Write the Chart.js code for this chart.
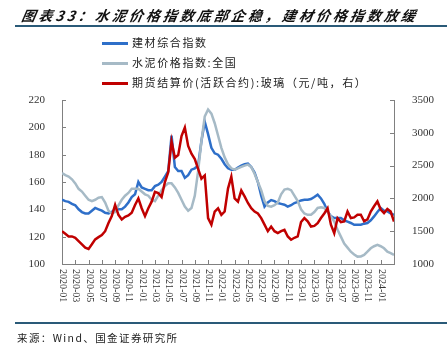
<!DOCTYPE html>
<html>
<head>
<meta charset="utf-8">
<script src="https://cdn.jsdelivr.net/npm/chart.js@4"></script>
<style>
html,body{margin:0;padding:0;background:#fff;}
#wrap{position:relative;width:447px;height:355px;overflow:hidden;background:#fff;}
#c{position:absolute;left:0;top:0;}
.title{position:absolute;left:20px;top:5px;font-family:"Noto Sans CJK SC";font-weight:bold;font-style:italic;font-size:14px;letter-spacing:3px;color:#111;white-space:nowrap;transform:skewX(-10deg);transform-origin:left bottom;}
.hr{position:absolute;left:15px;width:432px;height:2px;background:#2a5a78;}
.leg{position:absolute;left:102px;font-family:"Noto Sans CJK SC";font-size:11px;letter-spacing:1.6px;color:#222;white-space:nowrap;line-height:14px;}
.leg span.l{display:inline-block;width:26px;height:3px;vertical-align:middle;margin-right:4px;position:relative;top:-1px;}
.src{position:absolute;left:17px;top:330px;font-family:"Noto Sans CJK SC";font-size:10.5px;letter-spacing:1.4px;color:#222;white-space:nowrap;}
</style>
</head>
<body>
<div id="wrap">
<canvas id="c" width="447" height="355"></canvas>
<div class="title">图表33：水泥价格指数底部企稳，建材价格指数放缓</div>
<div class="hr" style="top:25px"></div>
<div class="leg" style="top:35px"><span class="l" style="background:#2e6fc9"></span>建材综合指数</div>
<div class="leg" style="top:55px"><span class="l" style="background:#a6bac6"></span>水泥价格指数:全国</div>
<div class="leg" style="top:75px"><span class="l" style="background:#c00000"></span>期货结算价(活跃合约):玻璃（元/吨，右）</div>
<div class="hr" style="top:322px"></div>
<div class="src">来源：Wind、国金证券研究所</div>
</div>
<script>
// months since 2020-01 (semi-monthly samples)
const monthOffsets = [0,0.5,1,1.5,2,2.5,3,3.5,4,4.5,5,5.5,6,6.5,7,7.5,8,8.5,9,9.5,
10,10.5,11,11.5,12,12.5,13,13.5,14,14.5,15,15.5,16,16.5,17,17.5,18,18.5,19,19.5,
20,20.5,21,21.5,22,22.5,23,23.5,24,24.5,25,25.5,26,26.5,27,27.5,28,28.5,29,29.5,
30,30.5,31,31.5,32,32.5,33,33.5,34,34.5,35,35.5,36,36.5,37,37.5,38,38.5,39,39.5,
40,40.5,41,41.5,42,42.5,43,43.5,44,44.5,45,45.5,46,46.5,47,47.5,48,48.5,49,49.5,50];

// 建材综合指数 (left axis)
const buildingIndex = [147,146,145.5,144,143,140,138,137,137,139,
141,140,139,137.5,137,138,140,140,140,142,
145,149,151,160,156,155,154,154,157,158,
160,164,168,194,171,168,168,163,165,169,
170,172,190,204,195,185,181,180,177,173,
170,169,169,170.5,172,173,173.5,171,167,160,
150,142,145,146.8,146,144.6,144,143.4,142,143,
144.6,145.5,146.5,147,147,147.5,149,150.7,148,144,
138.5,135,133.6,133.6,133.6,132,131,130,128.7,128.7,
128.7,129.5,130,132,134.8,138,141,139,138.5,137,136];

// 水泥价格指数:全国 (left axis)
const cementIndex = [166.6,165,164,162,159,155,153,150,147,146,
147,148.5,149,145,139,137,138,143,147,150,
152,155,155,155,153,151,150,147,146,150,
154,157,159,159,156,152,147,142,139,141,
150,168,190,208,213,210,203,194,185,178,
173,170,169,170,171,172,172.7,171,166,160,
154,146,142.5,142,143,145,151,154.5,155,154,
150,146,140,137,136,136,138,141,141.5,141,
138,134.8,131,125,120,115,112,109,107,105.4,
105.5,106.6,109,111.5,113,114,113,111.5,109,108,106.6];

// 期货结算价(活跃合约):玻璃 元/吨 (right axis)
const glassFutures = [1500,1460,1420,1420,1400,1350,1300,1250,1230,1300,
1375,1410,1440,1500,1625,1730,1900,1750,1680,1720,
1740,1780,1900,2000,1850,1730,1850,1950,2100,2080,
2020,2250,2400,2870,2620,2660,2950,3080,2800,2680,
2600,2450,2300,2350,1700,1600,1800,1850,1750,1800,
2150,2330,2000,1950,2120,2030,1930,1850,1800,1770,
1700,1600,1500,1571,1500,1470,1500,1520,1420,1370,
1400,1420,1640,1700,1650,1571,1580,1622,1700,1770,
1850,1600,1470,1699,1640,1650,1800,1700,1710,1750,
1750,1650,1680,1800,1880,1954,1830,1776,1840,1800,1648];

const tickLabels = ['2020-01','2020-03','2020-05','2020-07','2020-09','2020-11',
'2021-01','2021-03','2021-05','2021-07','2021-09','2021-11',
'2022-01','2022-03','2022-05','2022-07','2022-09','2022-11',
'2023-01','2023-03','2023-05','2023-07','2023-09','2023-11','2024-01'];

const axisColor = '#808080';
const toXY = arr => arr.map((v,i)=>({x:monthOffsets[i], y:v}));

const customPlugin = {
  id:'customAxes',
  afterDraw(chart){
    const {ctx, chartArea:a, scales} = chart;
    const x = scales.x, y = scales.y, y1 = scales.y1;
    ctx.save();
    ctx.strokeStyle = axisColor;
    ctx.lineWidth = 1;
    tickLabels.forEach((lab,i)=>{
      const px = Math.round(x.getPixelForValue(i*2))+0.5;
      ctx.beginPath(); ctx.moveTo(px, a.bottom); ctx.lineTo(px, a.bottom-4); ctx.stroke();
      ctx.save();
      ctx.translate(px, a.bottom+5);
      ctx.rotate(Math.PI/2);
      ctx.font = '10px "Liberation Serif"';
      ctx.fillStyle = '#333';
      ctx.textAlign = 'left';
      ctx.textBaseline = 'middle';
      ctx.fillText(lab,0,0);
      ctx.restore();
    });
    y.ticks.forEach(t=>{
      const py = Math.round(y.getPixelForValue(t.value))+0.5;
      ctx.beginPath(); ctx.moveTo(a.left, py); ctx.lineTo(a.left+4, py); ctx.stroke();
    });
    y1.ticks.forEach(t=>{
      const py = Math.round(y1.getPixelForValue(t.value))+0.5;
      ctx.beginPath(); ctx.moveTo(a.right, py); ctx.lineTo(a.right-4, py); ctx.stroke();
    });
    ctx.restore();
  }
};

new Chart(document.getElementById('c'), {
  type:'line',
  data:{
    datasets:[
      {label:'期货结算价(活跃合约):玻璃（元/吨，右）', data:toXY(glassFutures), yAxisID:'y1', borderColor:'#c00000', borderWidth:2.5, pointRadius:0, order:0},
      {label:'水泥价格指数:全国', data:toXY(cementIndex), yAxisID:'y', borderColor:'#a6bac6', borderWidth:2.5, pointRadius:0, order:1},
      {label:'建材综合指数', data:toXY(buildingIndex), yAxisID:'y', borderColor:'#2e6fc9', borderWidth:2.5, pointRadius:0, order:2}
    ]
  },
  options:{
    responsive:false,
    animation:false,
    events:[],
    layout:{padding:{top:100,left:0,right:0,bottom:0}},
    plugins:{legend:{display:false}, tooltip:{enabled:false}},
    scales:{
      x:{type:'linear', min:0, max:50, grid:{display:false}, border:{display:true,color:axisColor},
         ticks:{display:false}, afterFit:s=>{s.height=91;}},
      y:{position:'left', min:100, max:220, grid:{display:false}, border:{color:axisColor},
         ticks:{stepSize:20, padding:9, color:'#333', font:{family:'"Liberation Serif"', size:11},
                callback:v=>String(v)},
         afterFit:s=>{s.width=62;}},
      y1:{position:'right', min:1000, max:3500, grid:{display:false}, border:{color:axisColor},
         ticks:{stepSize:500, padding:10, color:'#333', font:{family:'"Liberation Serif"', size:11},
                callback:v=>String(v)},
         afterFit:s=>{s.width=53;}}
    }
  },
  plugins:[customPlugin]
});
</script>
</body>
</html>
